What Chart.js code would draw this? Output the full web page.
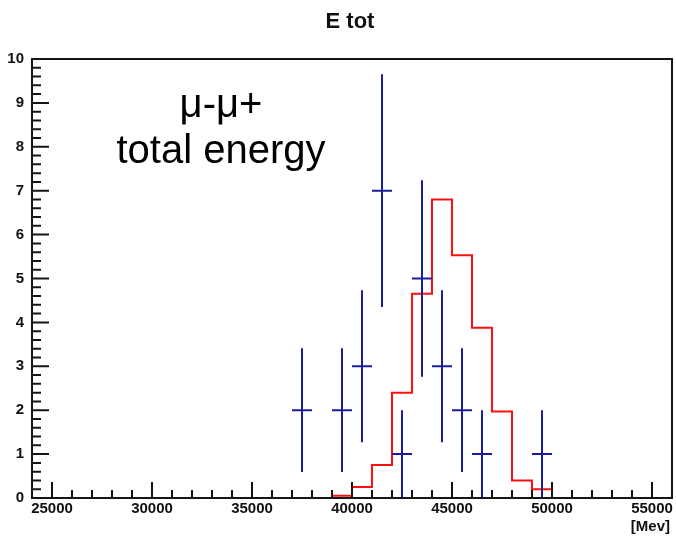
<!DOCTYPE html>
<html>
<head>
<meta charset="utf-8">
<script src="https://cdn.jsdelivr.net/npm/chart.js@4"></script>
<style>
  html, body { margin: 0; padding: 0; background: #fff; }
  #wrap { width: 676px; height: 537px; }
</style>
</head>
<body>
<div id="wrap"><canvas id="etot" width="676" height="537"></canvas></div>
<script>
// simulated spectrum, 1000 MeV bins (lower edges + last upper edge)
let binEdges=[39000,40000,41000,42000,43000,44000,45000,46000,47000,48000,49000,50000];
let simCounts=[0.05,0.25,0.75,2.4,4.65,6.8,5.53,3.88,1.97,0.4,0.2];

// measured events: bin centres, counts, poisson errors
let dataX=[37500,39500,40500,41500,42500,43500,44500,45500,46500,49500];
let dataY=[2,2,3,7,1,5,3,2,1,1];
let dataErr=[1.41,1.41,1.73,2.65,1,2.24,1.73,1.41,1,1];
let binWidth=1000;

let xTicks=[25000,30000,35000,40000,45000,50000,55000];
let yTicks=[0,1,2,3,4,5,6,7,8,9,10];

// histogram outline as a stepped line (horizontal first, then vertical)
let simLine=[];
for(let i=0;i<simCounts.length;i++){
    simLine.push({x:binEdges[i],y:simCounts[i]});
}
simLine.push({x:binEdges[binEdges.length-1],y:simCounts[simCounts.length-1]});
simLine.push({x:binEdges[binEdges.length-1],y:0});

// error crosses, separated by gaps
let crosses=[];
for(let i=0;i<dataX.length;i++){
    crosses.push({x:dataX[i]-binWidth/2,y:dataY[i]});
    crosses.push({x:dataX[i]+binWidth/2,y:dataY[i]});
    crosses.push({x:dataX[i],y:null});
    crosses.push({x:dataX[i],y:Math.max(0,dataY[i]-dataErr[i])});
    crosses.push({x:dataX[i],y:dataY[i]+dataErr[i]});
    crosses.push({x:dataX[i],y:null});
}

const tickFont={family:"'Liberation Sans', Arial, sans-serif",size:15,weight:'bold'};

// ROOT-like frame with inward ticks, plus title and text
const rootFrame={
    id:'rootFrame',
    afterDraw(chart){
        const ctx=chart.ctx, a=chart.chartArea;
        const xs=chart.scales.x, ys=chart.scales.y;
        ctx.save();
        ctx.strokeStyle='#151515';
        ctx.lineWidth=2;
        ctx.strokeRect(a.left,a.top,a.right-a.left,a.bottom-a.top);
        ctx.beginPath();
        for(let v=xs.min+1000;v<xs.max;v+=1000){
            let px=xs.getPixelForValue(v);
            let len=(v%5000===0)?16:8;
            ctx.moveTo(px,a.bottom);
            ctx.lineTo(px,a.bottom-len);
        }
        for(let k=1;k<50;k++){
            let v=k*0.2;
            let py=ys.getPixelForValue(v);
            let len=(k%5===0)?17:9;
            ctx.moveTo(a.left,py);
            ctx.lineTo(a.left+len,py);
        }
        ctx.stroke();

        ctx.fillStyle='#111';
        ctx.font="bold 22px 'Liberation Sans', Arial, sans-serif";
        ctx.textAlign='center';
        ctx.textBaseline='alphabetic';
        ctx.fillText('E tot',350,28);

        ctx.font="bold 15px 'Liberation Sans', Arial, sans-serif";
        ctx.textAlign='right';
        ctx.fillText('[Mev]',670,531);

        ctx.fillStyle='#000';
        ctx.font="40px 'Liberation Sans', Arial, sans-serif";
        ctx.textAlign='center';
        ctx.fillText('\u03bc-\u03bc+',221,117);
        ctx.fillText('total energy',221,163);
        ctx.restore();
    }
};

new Chart(document.getElementById('etot'),{
    type:'line',
    data:{
        datasets:[{
            label:'data',
            data:crosses,
            borderColor:'#1c1c9a',
            borderWidth:2,
            pointRadius:0,
            spanGaps:false,
            order:0
        },{
            label:'sim',
            data:simLine,
            borderColor:'#ff1010',
            borderWidth:2,
            pointRadius:0,
            stepped:'before',
            order:1
        }]
    },
    options:{
        responsive:false,
        animation:false,
        layout:{padding:{top:59,right:4,left:0,bottom:0}},
        plugins:{legend:{display:false},tooltip:{enabled:false},title:{display:false}},
        scales:{
            x:{
                type:'linear',
                min:24000,max:56000,
                grid:{display:false,drawTicks:false},
                border:{display:false},
                afterBuildTicks(scale){scale.ticks=xTicks.map(v=>({value:v}));},
                afterFit(scale){scale.height=39;},
                ticks:{font:tickFont,color:'#111',padding:2,maxRotation:0,autoSkip:false,
                    callback:v=>String(v)}
            },
            y:{
                min:0,max:10,
                grid:{display:false,drawTicks:false},
                border:{display:false},
                afterBuildTicks(scale){scale.ticks=yTicks.map(v=>({value:v}));},
                afterFit(scale){scale.width=32;},
                ticks:{font:tickFont,color:'#111',padding:8}
            }
        }
    },
    plugins:[rootFrame]
});
</script>
</body>
</html>
